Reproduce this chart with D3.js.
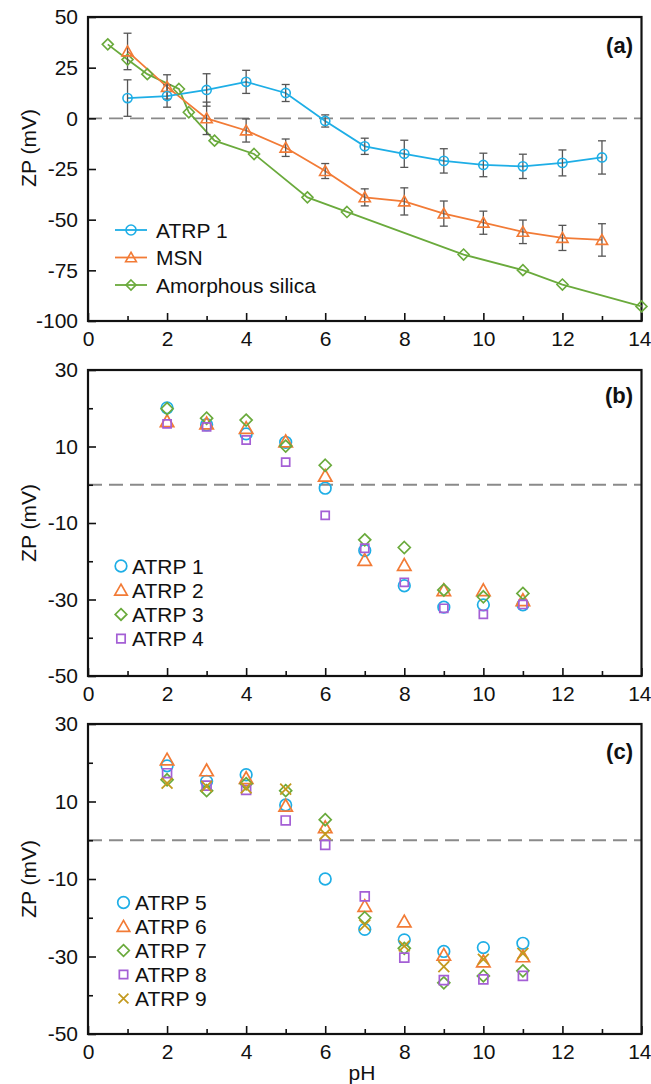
<!DOCTYPE html>
<html>
<head>
<meta charset="utf-8">
<script src="https://cdn.jsdelivr.net/npm/d3@7"></script>
<style>
  html, body { margin: 0; padding: 0; background: #fff; }
  svg text { font-family: "Liberation Sans", Arial, sans-serif; fill: #111; }
</style>
</head>
<body>
<svg id="chart" width="651" height="1084"></svg>
<script>
// ---------- Panel (a): zeta potential vs pH with error bars ----------
const pHA = [1, 2, 3, 4, 5, 6, 7, 8, 9, 10, 11, 12, 13];
const atrp1A = [10, 11, 14, 18, 12.5, -1.3, -13.8, -17.5, -21, -23, -23.7, -22, -19.3];
const atrp1Err = [9, 5.5, 8, 5.7, 4.2, 3, 4, 6.7, 6, 5.8, 6, 6.4, 8.2];
const msnA = [33, 15.5, 0, -6, -14.5, -26, -39, -41, -47, -51.5, -56, -59, -60];
const msnErr = [9, 6, 8, 5.7, 4.3, 3.7, 4.2, 6.7, 6.2, 5.7, 5.8, 6.2, 8];
const silicaPH = [0.5, 1, 1.5, 2.3, 2.55, 3.2, 4.2, 5.55, 6.55, 9.5, 11, 12, 14];
const silicaA = [36.5, 29, 21.8, 14.5, 3, -11, -17.6, -39, -46.2, -67.2, -74.9, -82, -92.8];

// ---------- Panel (b): ATRP 1-4 ----------
const pHBC = [2, 3, 4, 5, 6, 7, 8, 9, 10, 11];
const atrp1B = [20.1, 15.7, 13.3, 11.1, -0.9, -17.2, -26.4, -32, -31.4, -31.4];
const atrp2B = [16.6, 16, 14.8, 11.3, 2.3, -19.7, -21, -27.6, -27.6, -30.2];
const atrp3B = [19.9, 17.4, 16.9, 10.1, 5.1, -14.4, -16.4, -27.5, -29.3, -28.4];
const atrp4B = [15.9, 15.1, 11.7, 5.9, -8, -16.6, -25.5, -32.3, -33.9, -31.3];

// ---------- Panel (c): ATRP 5-9 ----------
const atrp5C = [19.2, 15.2, 16.9, 9.1, -10, -23, -25.7, -28.7, -27.7, -26.6];
const atrp6C = [20.8, 18, 16, 8.9, 3.3, -17, -21, -29.6, -31.3, -30];
const atrp7C = [15.6, 12.8, 14.6, 12.8, 5.3, -20, -27.9, -36.8, -35, -33.7];
const atrp8C = [17.3, 14.1, 13, 5.1, -1.2, -14.5, -30.3, -36.1, -35.9, -35];
const atrp9C = [14.7, 13.9, 13.5, 13.2, 1.6, -21.9, -27.3, -32.6, -30.7, -29.2];

// ---------- Axis ticks ----------
const xTicks = [0, 2, 4, 6, 8, 10, 12, 14];
const xMinor = [1, 3, 5, 7, 9, 11, 13];
const yTicksA = [50, 25, 0, -25, -50, -75, -100];
const yTicksBC = [30, 10, -10, -30, -50];
const yMinorBC = [20, 0, -20, -40];

const COLORS = {
  blue: "#1eaee6",
  orange: "#f27b36",
  green: "#6aaa3c",
  purple: "#a45fd5",
  gold: "#c39a1f"
};

const svg = d3.select("#chart");
const plotLeft = 88, plotRight = 641.5;
const FONT = 21;
const plainNumber = d => String(d);   // hyphen-minus, as in the figure

// marker outlines centred on (0,0)
function markerPath(kind, r) {
  const p = d3.path();
  if (kind === "circle") {
    p.arc(0, 0, r, 0, 2 * Math.PI);
  } else if (kind === "triangle") {
    p.moveTo(0, -r * 1.05);
    p.lineTo(r * 1.08, r * 0.85);
    p.lineTo(-r * 1.08, r * 0.85);
    p.closePath();
  } else if (kind === "diamond") {
    p.moveTo(0, -r); p.lineTo(r, 0); p.lineTo(0, r); p.lineTo(-r, 0); p.closePath();
  } else if (kind === "square") {
    const s = r * 0.72;
    p.rect(-s, -s, 2 * s, 2 * s);
  } else if (kind === "x") {
    const s = r * 0.85;
    p.moveTo(-s, -s); p.lineTo(s, s);
    p.moveTo(s, -s); p.lineTo(-s, s);
  }
  return p.toString();
}

function makePanel(opts) {
  const { top, bottom, yDomain, yTicks, yMinor, label, labelY, yTitleY } = opts;
  const x = d3.scaleLinear().domain([0, 14]).range([plotLeft, plotRight]);
  const y = d3.scaleLinear().domain(yDomain).range([bottom, top]);
  const g = svg.append("g");

  // zero reference line
  g.append("line")
    .attr("x1", plotLeft).attr("x2", plotRight)
    .attr("y1", y(0)).attr("y2", y(0))
    .attr("stroke", "#8a8a8a").attr("stroke-width", 1.8)
    .attr("stroke-dasharray", "14,7");

  // bottom axis with inward ticks
  const xAxis = d3.axisBottom(x).tickValues(xTicks).tickSize(-8).tickPadding(10)
    .tickFormat(plainNumber);
  const gx = g.append("g").attr("transform", `translate(0,${bottom})`).call(xAxis);
  gx.selectAll(".tick line").attr("stroke", "#111").attr("stroke-width", 1.6);
  gx.selectAll(".tick text").attr("font-size", FONT).attr("fill", "#111")
    .attr("font-family", "Liberation Sans, Arial, sans-serif").attr("dy", "0.71em");
  // keep the last label inside the page edge
  gx.selectAll(".tick text").filter(d => d === 14)
    .attr("text-anchor", "end").attr("x", 651 - plotRight);
  gx.select(".domain").remove();
  const gxm = g.append("g").attr("transform", `translate(0,${bottom})`)
    .call(d3.axisBottom(x).tickValues(xMinor).tickSize(-5).tickFormat(""));
  gxm.selectAll(".tick line").attr("stroke", "#111").attr("stroke-width", 1.6);
  gxm.select(".domain").remove();

  // left axis with inward ticks
  const yAxis = d3.axisLeft(y).tickValues(yTicks).tickSize(-8).tickPadding(10)
    .tickFormat(plainNumber);
  const gy = g.append("g").attr("transform", `translate(${plotLeft},0)`).call(yAxis);
  gy.selectAll(".tick line").attr("stroke", "#111").attr("stroke-width", 1.6);
  gy.selectAll(".tick text").attr("font-size", FONT).attr("fill", "#111")
    .attr("font-family", "Liberation Sans, Arial, sans-serif");
  gy.select(".domain").remove();
  if (yMinor) {
    const gym = g.append("g").attr("transform", `translate(${plotLeft},0)`)
      .call(d3.axisLeft(y).tickValues(yMinor).tickSize(-5).tickFormat(""));
    gym.selectAll(".tick line").attr("stroke", "#111").attr("stroke-width", 1.6);
    gym.select(".domain").remove();
  }

  // frame
  g.append("rect")
    .attr("x", plotLeft).attr("y", top)
    .attr("width", plotRight - plotLeft).attr("height", bottom - top)
    .attr("fill", "none").attr("stroke", "#111").attr("stroke-width", 2.2);

  // axis title
  g.append("text")
    .attr("transform", `translate(28,${yTitleY}) rotate(-90)`)
    .attr("text-anchor", "middle").attr("dominant-baseline", "central")
    .attr("font-size", FONT).text("ZP (mV)");

  // panel letter
  g.append("text")
    .attr("x", 633).attr("y", labelY)
    .attr("text-anchor", "end").attr("dominant-baseline", "central")
    .attr("font-size", 22).attr("font-weight", "bold").text(label);

  return { g, x, y };
}

function drawPoints(panel, xs, ys, kind, color, r, sw) {
  panel.g.append("g").selectAll("path")
    .data(xs.map((v, i) => [v, ys[i]]))
    .join("path")
    .attr("transform", d => `translate(${panel.x(d[0])},${panel.y(d[1])})`)
    .attr("d", markerPath(kind, r))
    .attr("fill", "none").attr("stroke", color).attr("stroke-width", sw);
}

function drawLegend(panel, items, x0, y0, dy, textX, withLine, r, sw) {
  const lg = panel.g.append("g");
  items.forEach((it, i) => {
    const yy = y0 + i * dy;
    if (withLine) {
      lg.append("line").attr("x1", x0 - 16).attr("x2", x0 + 16)
        .attr("y1", yy).attr("y2", yy)
        .attr("stroke", it.color).attr("stroke-width", 1.8);
    }
    lg.append("path").attr("transform", `translate(${x0},${yy})`)
      .attr("d", markerPath(it.kind, r))
      .attr("fill", "none").attr("stroke", it.color).attr("stroke-width", sw);
    lg.append("text").attr("x", textX).attr("y", yy)
      .attr("dominant-baseline", "central").attr("font-size", FONT).text(it.name);
  });
}

// ===== Panel (a) =====
const pa = makePanel({
  top: 17, bottom: 321, yDomain: [-100, 50], yTicks: yTicksA, yMinor: null,
  label: "(a)", labelY: 45, yTitleY: 148
});

const lineGen = d3.line().x(d => pa.x(d[0])).y(d => pa.y(d[1]));
function drawSeriesA(xs, ys, color) {
  pa.g.append("path").datum(xs.map((v, i) => [v, ys[i]]))
    .attr("d", lineGen).attr("fill", "none")
    .attr("stroke", color).attr("stroke-width", 1.8);
}
function drawErrors(xs, ys, errs) {
  const eg = pa.g.append("g").attr("stroke", "#555").attr("stroke-width", 1.3);
  xs.forEach((v, i) => {
    const cx = pa.x(v), y1 = pa.y(ys[i] + errs[i]), y2 = pa.y(ys[i] - errs[i]);
    eg.append("line").attr("x1", cx).attr("x2", cx).attr("y1", y1).attr("y2", y2);
    eg.append("line").attr("x1", cx - 4).attr("x2", cx + 4).attr("y1", y1).attr("y2", y1);
    eg.append("line").attr("x1", cx - 4).attr("x2", cx + 4).attr("y1", y2).attr("y2", y2);
  });
}

drawSeriesA(silicaPH, silicaA, COLORS.green);
drawSeriesA(pHA, msnA, COLORS.orange);
drawSeriesA(pHA, atrp1A, COLORS.blue);
drawErrors(pHA, msnA, msnErr);
drawErrors(pHA, atrp1A, atrp1Err);
drawPoints(pa, silicaPH, silicaA, "diamond", COLORS.green, 5.5, 1.6);
drawPoints(pa, pHA, msnA, "triangle", COLORS.orange, 5.2, 1.6);
drawPoints(pa, pHA, atrp1A, "circle", COLORS.blue, 4.6, 1.6);

drawLegend(pa, [
  { name: "ATRP 1", kind: "circle", color: COLORS.blue },
  { name: "MSN", kind: "triangle", color: COLORS.orange },
  { name: "Amorphous silica", kind: "diamond", color: COLORS.green }
], 131, 230, 27.5, 156, true, 5, 1.6);

// ===== Panel (b) =====
const pb = makePanel({
  top: 370, bottom: 676, yDomain: [-50, 30], yTicks: yTicksBC, yMinor: yMinorBC,
  label: "(b)", labelY: 395, yTitleY: 523
});
drawPoints(pb, pHBC, atrp1B, "circle", COLORS.blue, 5.8, 1.7);
drawPoints(pb, pHBC, atrp2B, "triangle", COLORS.orange, 6.2, 1.7);
drawPoints(pb, pHBC, atrp3B, "diamond", COLORS.green, 6, 1.7);
drawPoints(pb, pHBC, atrp4B, "square", COLORS.purple, 5.6, 1.7);
drawLegend(pb, [
  { name: "ATRP 1", kind: "circle", color: COLORS.blue },
  { name: "ATRP 2", kind: "triangle", color: COLORS.orange },
  { name: "ATRP 3", kind: "diamond", color: COLORS.green },
  { name: "ATRP 4", kind: "square", color: COLORS.purple }
], 121, 566, 24.2, 132, false, 5.8, 1.7);

// ===== Panel (c) =====
const pc = makePanel({
  top: 724, bottom: 1034, yDomain: [-50, 30], yTicks: yTicksBC, yMinor: yMinorBC,
  label: "(c)", labelY: 751, yTitleY: 879
});
drawPoints(pc, pHBC, atrp5C, "circle", COLORS.blue, 5.8, 1.7);
drawPoints(pc, pHBC, atrp6C, "triangle", COLORS.orange, 6.2, 1.7);
drawPoints(pc, pHBC, atrp7C, "diamond", COLORS.green, 6, 1.7);
drawPoints(pc, pHBC, atrp8C, "square", COLORS.purple, 6.2, 1.7);
drawPoints(pc, pHBC, atrp9C, "x", COLORS.gold, 6.4, 1.8);
drawLegend(pc, [
  { name: "ATRP 5", kind: "circle", color: COLORS.blue },
  { name: "ATRP 6", kind: "triangle", color: COLORS.orange },
  { name: "ATRP 7", kind: "diamond", color: COLORS.green },
  { name: "ATRP 8", kind: "square", color: COLORS.purple },
  { name: "ATRP 9", kind: "x", color: COLORS.gold }
], 123.5, 902.5, 24, 135, false, 5.8, 1.7);

// x-axis title
svg.append("text")
  .attr("x", 362).attr("y", 1072)
  .attr("text-anchor", "middle").attr("dominant-baseline", "central")
  .attr("font-size", FONT).text("pH");
</script>
</body>
</html>
